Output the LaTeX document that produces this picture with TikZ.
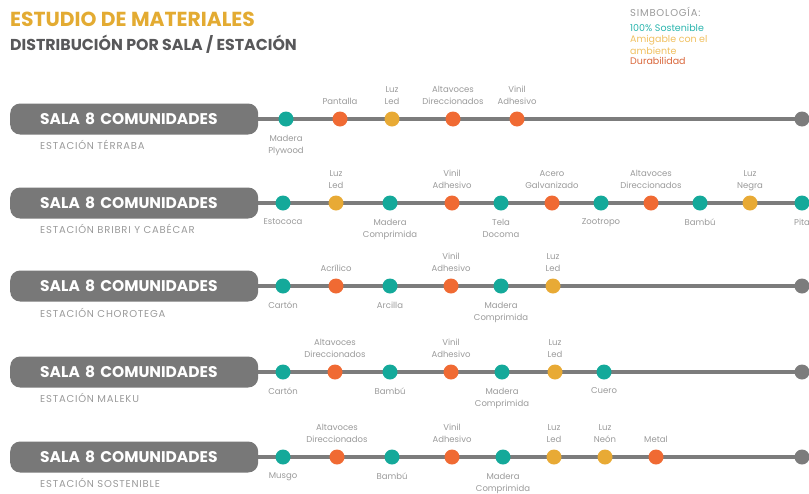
\documentclass[tikz,border=0pt]{standalone}
\usepackage{fontspec}
\setmainfont{Poppins}
\usetikzlibrary{backgrounds}
\definecolor{tealc}{HTML}{14A99A}
\definecolor{orngc}{HTML}{F06A33}
\definecolor{yellc}{HTML}{E8AA35}
\definecolor{pillg}{HTML}{787878}
\definecolor{lineg}{HTML}{7C7C7C}
\definecolor{labg}{HTML}{9A9A9A}
\definecolor{goldc}{HTML}{E3AB32}
\definecolor{darkc}{HTML}{58585A}
\definecolor{symy}{HTML}{F0C060}
\definecolor{symo}{HTML}{D9663A}
\definecolor{symt}{HTML}{2BB5AE}
\tikzset{
  pill/.style={fill=pillg, rounded corners=10pt, minimum width=248pt, minimum height=31pt,
    inner ysep=0pt, inner xsep=30pt, text width=188pt, align=left,
    text=white, font=\bfseries\fontsize{15.5}{15.5}\selectfont, anchor=west},
  sub/.style={anchor=west, text=labg, inner sep=0pt, font=\fontsize{10}{10}\selectfont\addfontfeatures{LetterSpace=8}},
  leg/.style={anchor=west, inner sep=0pt, font=\fontsize{9.5}{9.5}\selectfont},
  lab/.style={text=labg, align=center, inner sep=0pt, font=\fontsize{8.5}{12}\selectfont},
  dotbase/.style={circle, minimum size=15pt, inner sep=0pt},
  dT/.style={dotbase, fill=tealc},
  dO/.style={dotbase, fill=orngc},
  dY/.style={dotbase, fill=yellc},
  dE/.style={dotbase, fill=lineg},
  up/.style={label={[lab, text depth=0pt, yshift=6.5pt]above:#1}},
  dn/.style={label={[lab, yshift=-8pt]below:#1}},
  conn/.style={draw=lineg, line width=4pt},
}
\begin{document}
\begin{tikzpicture}[x=1pt,y=-1pt]
\useasboundingbox (0,0) rectangle (809,493);

% titles
\node[anchor=west, inner sep=0pt, text=goldc, font=\bfseries\fontsize{20.3}{20.3}\selectfont] (title) at (10,19) {ESTUDIO DE MATERIALES};
\node[anchor=west, inner sep=0pt, text=darkc, font=\bfseries\fontsize{15.8}{15.8}\selectfont] (subtitle) at (10,44) {DISTRIBUCIÓN POR SALA / ESTACIÓN};

% legend
\node[leg, text=labg, font=\addfontfeatures{LetterSpace=8}] (simb) at (630,12) {SIMBOLOGÍA:};
\node[leg, text=symt] (sost) at (630,28) {100\% Sostenible};
\node[leg, text=symy] (amig1) at (630,40) {Amigable con el};
\node[leg, text=symy] (amig2) at (630,51) {ambiente};
\node[leg, text=symo] (dura) at (630,61) {Durabilidad};

% ---------- Row 1 ----------
\node[pill] (p1) at (10,119) {SALA 8 COMUNIDADES};
\node[sub] (s1) at (40,145) {ESTACIÓN TÉRRABA};
\node[dT, dn={Madera\\Plywood}] (r1a) at (286,119) {};
\node[dO, up={Pantalla}] (r1b) at (340,119) {};
\node[dY, up={Luz\\Led}] (r1c) at (392,119) {};
\node[dO, up={Altavoces\\Direccionados}] (r1d) at (453,119) {};
\node[dO, up={Vinil\\Adhesivo}] (r1e) at (517,119) {};
\node[dE] (r1z) at (802,119) {};

% ---------- Row 2 ----------
\node[pill] (p2) at (10,203) {SALA 8 COMUNIDADES};
\node[sub] (s2) at (40,229) {ESTACIÓN BRIBRI Y CABÉCAR};
\node[dT, dn={Estococa}] (r2a) at (283,203) {};
\node[dY, up={Luz\\Led}] (r2b) at (336,203) {};
\node[dT, dn={Madera\\Comprimida}] (r2c) at (390,203) {};
\node[dO, up={Vinil\\Adhesivo}] (r2d) at (452,203) {};
\node[dT, dn={Tela\\Docoma}] (r2e) at (501,203) {};
\node[dO, up={Acero\\Galvanizado}] (r2f) at (552,203) {};
\node[dT, dn={Zootropo}] (r2g) at (601,203) {};
\node[dO, up={Altavoces\\Direccionados}] (r2h) at (651,203) {};
\node[dT, dn={Bambú}] (r2i) at (700,203) {};
\node[dY, up={Luz\\Negra}] (r2j) at (750,203) {};
\node[dT, dn={Pita}] (r2z) at (802,203) {};

% ---------- Row 3 ----------
\node[pill] (p3) at (10,286) {SALA 8 COMUNIDADES};
\node[sub] (s3) at (40,313) {ESTACIÓN CHOROTEGA};
\node[dT, dn={Cartón}] (r3a) at (283,286) {};
\node[dO, up={Acrílico}] (r3b) at (336,286) {};
\node[dT, dn={Arcilla}] (r3c) at (390,286) {};
\node[dO, up={Vinil\\Adhesivo}] (r3d) at (451,286) {};
\node[dT, dn={Madera\\Comprimida}] (r3e) at (501,286) {};
\node[dY, up={Luz\\Led}] (r3f) at (553,286) {};
\node[dE] (r3z) at (802,286) {};

% ---------- Row 4 ----------
\node[pill] (p4) at (10,372) {SALA 8 COMUNIDADES};
\node[sub] (s4) at (40,398) {ESTACIÓN MALEKU};
\node[dT, dn={Cartón}] (r4a) at (283,372) {};
\node[dO, up={Altavoces\\Direccionados}] (r4b) at (335,372) {};
\node[dT, dn={Bambú}] (r4c) at (390,372) {};
\node[dO, up={Vinil\\Adhesivo}] (r4d) at (451,372) {};
\node[dT, dn={Madera\\Comprimida}] (r4e) at (502,372) {};
\node[dY, up={Luz\\Led}] (r4f) at (555,372) {};
\node[dT, dn={Cuero}] (r4g) at (604,372) {};
\node[dE] (r4z) at (802,372) {};

% ---------- Row 5 ----------
\node[pill] (p5) at (10,457) {SALA 8 COMUNIDADES};
\node[sub] (s5) at (40,483) {ESTACIÓN SOSTENIBLE};
\node[dT, dn={Musgo}] (r5a) at (283,457) {};
\node[dO, up={Altavoces\\Direccionados}] (r5b) at (337,457) {};
\node[dT, dn={Bambú}] (r5c) at (392,457) {};
\node[dO, up={Vinil\\Adhesivo}] (r5d) at (452,457) {};
\node[dT, dn={Madera\\Comprimida}] (r5e) at (503,457) {};
\node[dY, up={Luz\\Led}] (r5f) at (554,457) {};
\node[dY, up={Luz\\Neón}] (r5g) at (605,457) {};
\node[dO, up={Metal}] (r5h) at (656,457) {};
\node[dE] (r5z) at (802,457) {};

\begin{scope}[on background layer]
  \draw[conn] (p1.east) -- (r1z.center);
  \draw[conn] (p2.east) -- (r2z.center);
  \draw[conn] (p3.east) -- (r3z.center);
  \draw[conn] (p4.east) -- (r4z.center);
  \draw[conn] (p5.east) -- (r5z.center);
\end{scope}
\end{tikzpicture}
\end{document}
